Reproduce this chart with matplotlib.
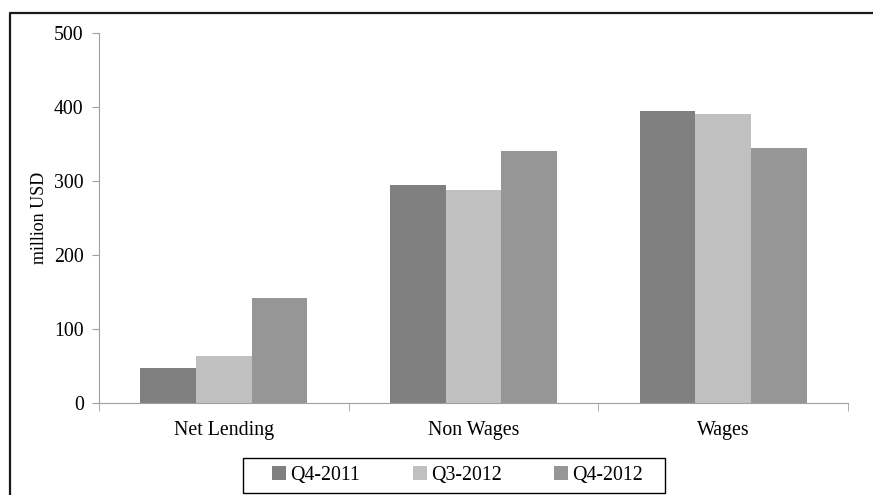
import numpy as np
import matplotlib.pyplot as plt
from matplotlib.lines import Line2D
from matplotlib.patches import Rectangle

# Spending by category, million USD
categories = ['Net Lending', 'Non Wages', 'Wages']
periods = ['Q4-2011', 'Q3-2012', 'Q4-2012']
q4_2011 = [47, 294, 394]
q3_2012 = [63, 288, 390]
q4_2012 = [142, 340, 345]
colors = ['#808080', '#c0c0c0', '#969696']

plt.rcParams['font.family'] = ['Liberation Serif', 'DejaVu Serif']
plt.rcParams['font.size'] = 14.3

W, H = 873, 495
fig = plt.figure(figsize=(W / 100, H / 100), dpi=100)
ax = fig.add_axes([99 / W, 1 - 403 / H, (848 - 99) / W, (403 - 33) / H])

x = np.arange(len(categories))
width = 0.223
series = [q4_2011, q3_2012, q4_2012]
for i, (vals, label, c) in enumerate(zip(series, periods, colors)):
    ax.bar(x + (i - 1) * width, vals, width, color=c, label=label)

ax.set_xlim(-0.5, 2.5)
ax.set_ylim(0, 500)
ax.set_yticks(range(0, 501, 100))
ax.set_xticks(x)
ax.set_xticklabels(categories)
ax.set_xticks([-0.5, 0.5, 1.5, 2.5], minor=True)
ax.tick_params(axis='x', which='major', length=0, pad=13)
ax.tick_params(axis='x', which='minor', length=6, color='#a0a0a0')
ax.tick_params(axis='y', length=5, color='#a0a0a0', pad=6)
for side in ['top', 'right']:
    ax.spines[side].set_visible(False)
for side in ['left', 'bottom']:
    ax.spines[side].set_color('#a0a0a0')
ax.set_ylabel('million USD', labelpad=4, fontsize=13)

# legend entries, with a plain box drawn around them
fig.legend(loc='center', bbox_to_anchor=(457.5 / W, 1 - 475.5 / H),
           ncol=3, frameon=False, handlelength=0.7, handleheight=0.7,
           handletextpad=0.2, columnspacing=2.65, borderpad=0.0, fontsize=14.3)
fig.add_artist(Rectangle((243 / W, 1 - 493 / H), (665 - 243) / W, 35 / H,
                         transform=fig.transFigure, fill=False,
                         edgecolor='black', linewidth=1))

# outer frame along the left and top edges
fig.add_artist(Line2D([9.5 / W, 9.5 / W, 1], [0, 1 - 12.5 / H, 1 - 12.5 / H],
                      transform=fig.transFigure, color='#1a1a1a', linewidth=1.6))

fig.savefig('out.png', dpi=100)
